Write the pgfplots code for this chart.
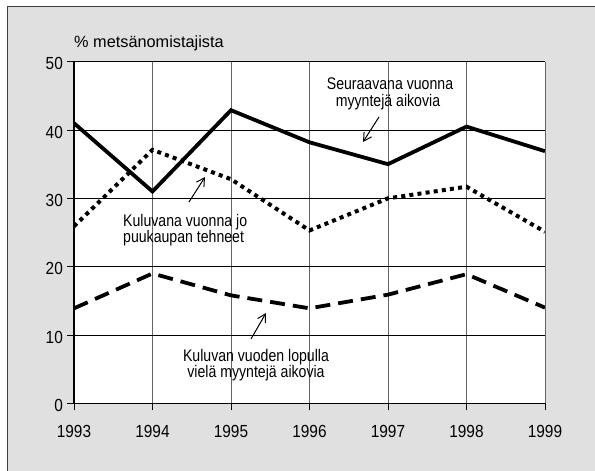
\documentclass[border=0pt]{standalone}
\usepackage{fontspec}
\setmainfont{Liberation Sans}
\newfontfamily\narrowfont{Liberation Sans}[FakeStretch=0.84]
\newfontfamily\tickfont{Liberation Sans}[FakeStretch=0.88]
\usepackage{pgfplots}
\pgfplotsset{compat=1.18}
\usetikzlibrary{arrows.meta}
\definecolor{bg}{RGB}{224,224,224}
\definecolor{gridgray}{RGB}{100,100,100}
\begin{document}
\begin{tikzpicture}[x=1pt,y=1pt]
\useasboundingbox (0,0) rectangle (595,471);
\fill[white] (0,0) rectangle (595,471);
\fill[bg] (7,0) rectangle (595,464);
\draw[line width=1pt, black!75] (7,0) -- (7,464) -- (595,464);
\begin{axis}[
  at={(74pt,67.7pt)}, anchor=south west,
  scale only axis, width=471pt, height=341.6pt,
  xmin=1993, xmax=1999, ymin=0, ymax=50,
  xtick={1993,1994,1995,1996,1997,1998,1999},
  xticklabels={1993,1994,1995,1996,1997,1998,1999},
  ytick={0,10,20,30,40,50},
  axis lines=left, axis line style={-, line width=1.2pt, black},
  axis background/.style={fill=white},
  tick align=outside, major tick length=7pt,
  tick style={line width=0.8pt, black},
  xmajorgrids, ymajorgrids,
  x grid style={line width=0.8pt, gridgray},
  y grid style={line width=0.8pt, black},
  /pgf/number format/assume math mode=true,
  xticklabel style={font=\tickfont\fontsize{17.5}{17.5}\selectfont, inner sep=0pt, anchor=north, yshift=-15pt},
  yticklabel style={font=\tickfont\fontsize{17.5}{17.5}\selectfont, inner sep=0pt, anchor=east, xshift=-4pt, yshift=-2pt},
]
\addplot[black, line width=3.8pt, line join=miter] coordinates {(1993,41) (1994,31) (1995,42.9) (1996,38.2) (1997,35) (1998,40.5) (1999,36.9)};
\addplot[black, line width=4pt, dash pattern=on 4pt off 4.2pt] coordinates {(1993,25.9) (1994,37.1) (1995,32.8) (1996,25.3) (1997,30) (1998,31.7) (1999,25.1)};
\addplot[black, line width=3.8pt, dash pattern=on 15pt off 8pt] coordinates {(1993,13.9) (1994,19) (1995,15.8) (1996,13.9) (1997,15.9) (1998,18.9) (1999,14)};
\end{axis}
\node[anchor=base west, inner sep=0pt, font=\fontsize{16.3}{17}\selectfont] at (74,423.3) {\% metsänomistajista};
\begin{scope}[every node/.style={inner sep=0pt, font=\narrowfont\fontsize{16.8}{17}\selectfont}]
\node[anchor=base] at (390,381) {Seuraavana vuonna};
\node[anchor=base] at (388,364) {myyntejä aikovia};
\node[anchor=base west] at (123,244.3) {Kuluvana vuonna jo};
\node[anchor=base west] at (123,228.3) {puukaupan tehneet};
\node[anchor=base] at (256,109) {Kuluvan vuoden lopulla};
\node[anchor=base] at (256,93) {vielä myyntejä aikovia};
\end{scope}
\begin{scope}[line width=1pt, -{Straight Barb[length=8pt,width=9pt]}]
\draw (379,354) -- (363,329);
\draw (189,269) -- (205,294);
\draw (251,132) -- (266,158);
\end{scope}
\end{tikzpicture}
\end{document}
